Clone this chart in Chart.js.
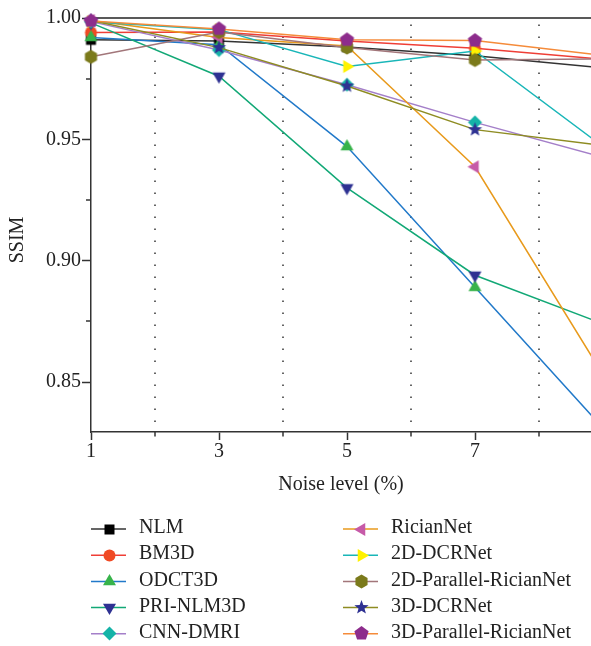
<!DOCTYPE html>
<html>
<head>
<meta charset="utf-8">
<style>
  html, body { margin: 0; padding: 0; background: #fff; }
</style>
<script src="https://cdn.jsdelivr.net/npm/chart.js@4.4.1/dist/chart.umd.min.js"></script>
</head>
<body>
<canvas id="ssimChart" width="591" height="646"></canvas>
<script>
// noise levels (x) and SSIM per method
const noiseLevels = [1, 3, 5, 7, 9];
const methods = ['NLM', 'BM3D', 'ODCT3D', 'PRI-NLM3D', 'CNN-DMRI',
                 'RicianNet', '2D-DCRNet', '2D-Parallel-RicianNet', '3D-DCRNet', '3D-Parallel-RicianNet'];

const nlm        = [0.9910, 0.9905, 0.9880, 0.9844, 0.9794];
const bm3d       = [0.9940, 0.9942, 0.9905, 0.9875, 0.9830];
const odct3d     = [0.9920, 0.9890, 0.9470, 0.8890, 0.8310];
const priNlm3d   = [0.9980, 0.9760, 0.9300, 0.8940, 0.8740];
const cnnDmri    = [0.9985, 0.9868, 0.9725, 0.9570, 0.9426];
const ricianNet  = [0.9990, 0.9920, 0.9885, 0.9387, 0.8530];
const dcrNet2d   = [0.9985, 0.9952, 0.9800, 0.9864, 0.9470];
const parallel2d = [0.9840, 0.9942, 0.9878, 0.9827, 0.9832];
const dcrNet3d   = [0.9990, 0.9878, 0.9720, 0.9540, 0.9475];
const parallel3d = [0.9988, 0.9955, 0.9910, 0.9907, 0.9846];

const xTicks = [1, 3, 5, 7];
const xMinor = [2, 4, 6, 8];
const yTicks = [0.85, 0.90, 0.95, 1.00];
const yMinor = [0.875, 0.925, 0.975];

const series = [nlm, bm3d, odct3d, priNlm3d, cnnDmri, ricianNet, dcrNet2d, parallel2d, dcrNet3d, parallel3d];

// styles
const lineColors = ['#333333', '#ef3e36', '#2179c9', '#12a876', '#a47fc9',
                    '#e89a1c', '#19b6b8', '#a2767a', '#8e8c22', '#f58b3a'];
const markerColors = ['#000000', '#f04a24', '#37b34a', '#2e3192', '#15b3a8',
                      '#c65aa8', '#fff200', '#7b7a1b', '#2e3192', '#8d2c8c'];
const markerShapes = ['square', 'circle', 'up', 'down', 'diamond',
                      'left', 'right', 'hexagon', 'star', 'pentagon'];

const serif = '"Liberation Serif", "Times New Roman", serif';

function marker(shape, color, r) {
  const size = Math.ceil(r * 2) + 2;
  const c = document.createElement('canvas');
  c.width = c.height = size;
  const g = c.getContext('2d');
  g.translate(size / 2, size / 2);
  g.fillStyle = color;
  g.beginPath();
  const poly = (angles, rad) => {
    angles.forEach((a, k) => {
      const t = a * Math.PI / 180;
      const rr = Array.isArray(rad) ? rad[k % rad.length] : rad;
      k ? g.lineTo(rr * Math.cos(t), rr * Math.sin(t)) : g.moveTo(rr * Math.cos(t), rr * Math.sin(t));
    });
    g.closePath();
  };
  if (shape === 'square') g.rect(-5, -5, 10, 10);
  else if (shape === 'circle') g.arc(0, 0, 6, 0, Math.PI * 2);
  else if (shape === 'up') poly([-90, 30, 150], r);
  else if (shape === 'down') poly([90, 210, 330], r);
  else if (shape === 'left') poly([180, 300, 60], r);
  else if (shape === 'right') poly([0, 120, 240], r);
  else if (shape === 'diamond') poly([-90, 0, 90, 180], r - 0.5);
  else if (shape === 'pentagon') poly([-90, -18, 54, 126, 198], r);
  else if (shape === 'hexagon') poly([-90, -30, 30, 90, 150, 210], r - 0.5);
  else if (shape === 'star') poly([...Array(10)].map((_, k) => -90 + k * 36), [r, r * 0.42]);
  g.fill();
  return c;
}

const datasets = methods.map((name, i) => ({
  label: name,
  data: noiseLevels.map((x, j) => ({ x: x, y: series[i][j] })),
  borderColor: lineColors[i],
  backgroundColor: markerColors[i],
  borderWidth: 1.5,
  pointStyle: marker(markerShapes[i], markerColors[i], 7.5),
  pointRadius: 7,
  tension: 0,
  clip: false,
  order: methods.length - i
}));

const decor = {
  id: 'decor',
  beforeDatasetsDraw(chart) {
    const { ctx, chartArea: a, scales: { x, y } } = chart;
    ctx.save();
    ctx.strokeStyle = '#333';
    ctx.lineWidth = 1.5;
    ctx.setLineDash([1.5, 10.5]);
    xMinor.forEach(v => {
      const px = Math.round(x.getPixelForValue(v));
      ctx.beginPath(); ctx.moveTo(px, a.bottom - 10); ctx.lineTo(px, a.top + 6); ctx.stroke();
    });
    ctx.setLineDash([]);
    // frame line along the top
    ctx.strokeStyle = '#595959';
    ctx.lineWidth = 2;
    ctx.beginPath(); ctx.moveTo(a.left, a.top); ctx.lineTo(a.right, a.top); ctx.stroke();
    // minor ticks
    ctx.strokeStyle = '#333';
    ctx.lineWidth = 1.5;
    xMinor.forEach(v => {
      const px = Math.round(x.getPixelForValue(v));
      ctx.beginPath(); ctx.moveTo(px, a.bottom); ctx.lineTo(px, a.bottom + 4.5); ctx.stroke();
    });
    yMinor.forEach(v => {
      const py = Math.round(y.getPixelForValue(v));
      ctx.beginPath(); ctx.moveTo(a.left - 5, py); ctx.lineTo(a.left, py); ctx.stroke();
    });
    // y axis title
    ctx.font = '20px ' + serif;
    ctx.fillStyle = '#222';
    ctx.textAlign = 'center';
    ctx.textBaseline = 'middle';
    ctx.translate(18, 240);
    ctx.rotate(-Math.PI / 2);
    ctx.fillText('SSIM', 0, 0);
    ctx.restore();
  }
};

const bottomLegend = {
  id: 'bottomLegend',
  afterDraw(chart) {
    const ctx = chart.ctx;
    ctx.save();
    ctx.font = '20px ' + serif;
    ctx.textBaseline = 'middle';
    ctx.fillStyle = '#222';
    chart.data.datasets.forEach((ds, i) => {
      const col = Math.floor(i / 5), row = i % 5;
      const x0 = col ? 343 : 91;
      const y0 = 529 + row * 26.2;
      ctx.strokeStyle = ds.borderColor;
      ctx.lineWidth = 1.5;
      ctx.beginPath(); ctx.moveTo(x0, y0); ctx.lineTo(x0 + 35, y0); ctx.stroke();
      const img = ds.pointStyle;
      ctx.drawImage(img, Math.round(x0 + 18 - img.width / 2), Math.round(y0 - img.height / 2));
      ctx.fillText(ds.label, x0 + 48, y0 - 1);
    });
    ctx.restore();
  }
};

new Chart(document.getElementById('ssimChart').getContext('2d'), {
  type: 'line',
  data: { datasets: datasets },
  options: {
    responsive: false,
    animation: false,
    layout: { autoPadding: false, padding: { left: 0, right: 0, top: 18, bottom: 144 } },
    plugins: { legend: { display: false }, tooltip: { enabled: false } },
    scales: {
      x: {
        type: 'linear',
        min: 1,
        max: 8.8125,
        afterBuildTicks: s => { s.ticks = xTicks.map(v => ({ value: v })); },
        afterFit: s => { s.height = 70; s.paddingLeft = 0; s.paddingRight = 0; },
        ticks: { font: { family: serif, size: 20 }, color: '#222', padding: 0, maxRotation: 0 },
        grid: { drawOnChartArea: false, tickLength: 8, tickColor: '#333', tickWidth: 1.5 },
        border: { color: '#333', width: 1.5 },
        title: { display: true, text: 'Noise level (%)', font: { family: serif, size: 20 }, color: '#222',
                 padding: { top: 0, bottom: 5 } }
      },
      y: {
        min: 0.8294,
        max: 1.0,
        afterBuildTicks: s => { s.ticks = yTicks.map(v => ({ value: v })); },
        afterFit: s => { s.width = 91; },
        ticks: { font: { family: serif, size: 20 }, color: '#222', padding: 1, callback: v => v.toFixed(2) },
        grid: { drawOnChartArea: false, tickLength: 9, tickColor: '#333', tickWidth: 1.5 },
        border: { color: '#333', width: 1.5 },
        title: { display: false }
      }
    }
  },
  plugins: [decor, bottomLegend]
});
</script>
</body>
</html>
